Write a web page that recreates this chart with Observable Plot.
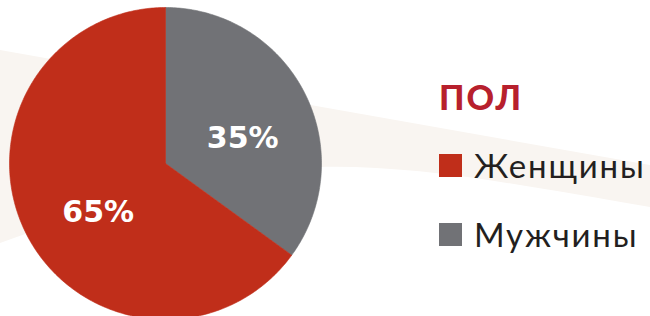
<!DOCTYPE html>
<html>
<head>
<meta charset="utf-8">
<script src="https://cdn.jsdelivr.net/npm/d3@7"></script>
<script src="https://cdn.jsdelivr.net/npm/@observablehq/plot@0.6"></script>
<style>
  html, body { margin: 0; padding: 0; background: #fff; }
  #wrap {
    position: relative; width: 650px; height: 316px; overflow: hidden;
    background-image: url("data:image/svg+xml;utf8,<svg xmlns='http://www.w3.org/2000/svg' width='650' height='316'><path d='M0,50 L650,165 L650,207 C520,185 420,165 320,167 C200,170 80,215 0,243 Z' fill='%23f9f5f1'/></svg>");
    background-repeat: no-repeat;
  }
  #chart { position: absolute; left: 0; top: 0; }
  #title {
    position: absolute; left: 439px; top: 80px;
    font-family: Lato, sans-serif; font-weight: 900; font-size: 34px; line-height: 1;
    color: #b7202d; letter-spacing: 2px;
  }
  #legend { position: absolute; left: 439px; top: 149px; }
  #legend .lg-swatches { font-family: Lato, sans-serif; font-size: 33px; line-height: 1; color: #231f20; margin: 0; }
  #legend .lg-swatch { margin-bottom: 36px; padding: 0; height: 33px; }
  #legend .lg-swatch > svg { margin-right: 12px; }
  #legend .lg-swatch-label { overflow: visible; letter-spacing: 1.8px; }
</style>
</head>
<body>
<div id="wrap">
  <div id="chart"></div>
  <div id="title"></div>
  <div id="legend"></div>
</div>
<script>
// ---- data ----
const categories = ["Женщины", "Мужчины"];
const shares = [65, 35];
const colors = ["#c02e1a", "#717276"];
const legendTitle = "ПОЛ";
const pieOrder = ["Мужчины", "Женщины"]; // clockwise from 12 o'clock

// ---- build slices ----
const rows = pieOrder.map(c => ({cat: c, value: shares[categories.indexOf(c)]}));
const arcs = d3.pie().sort(null).value(d => d.value)(rows);

const slicePts = [];
for (const a of arcs) {
  const n = Math.max(2, Math.ceil((a.endAngle - a.startAngle) * 80));
  slicePts.push({cat: a.data.cat, x: 0, y: 0});
  for (let i = 0; i <= n; i++) {
    const t = a.startAngle + (a.endAngle - a.startAngle) * i / n;
    slicePts.push({cat: a.data.cat, x: Math.sin(t), y: Math.cos(t)});
  }
  slicePts.push({cat: a.data.cat, x: 0, y: 0});
}
const labelRows = arcs.map(a => {
  const m = (a.startAngle + a.endAngle) / 2;
  return {cat: a.data.cat, x: 0.52 * Math.sin(m), y: 0.52 * Math.cos(m), text: a.data.value + "%"};
});

const plot = Plot.plot({
  width: 650,
  height: 316,
  style: {background: "transparent", overflow: "hidden"},
  x: {domain: [-1, 1], range: [9, 321], axis: null},
  y: {domain: [-1, 1], range: [319, 7], axis: null},
  color: {domain: categories, range: colors},
  marks: [
    Plot.line(slicePts, {x: "x", y: "y", z: "cat", fill: "cat", stroke: "cat", strokeWidth: 0.6, curve: "linear"}),
    Plot.text(labelRows, {x: "x", y: "y", text: "text", fill: "white", fontSize: 30, fontWeight: 700,
      fontFamily: "DejaVu Sans, sans-serif", dx: 5, dy: 12})
  ]
});
document.getElementById("chart").appendChild(plot);

document.getElementById("title").textContent = legendTitle;
const leg = Plot.legend({
  color: {domain: categories, range: colors},
  legend: "swatches",
  columns: 1,
  swatchSize: 23,
  className: "lg"
});
document.getElementById("legend").appendChild(leg);
</script>
</body>
</html>
